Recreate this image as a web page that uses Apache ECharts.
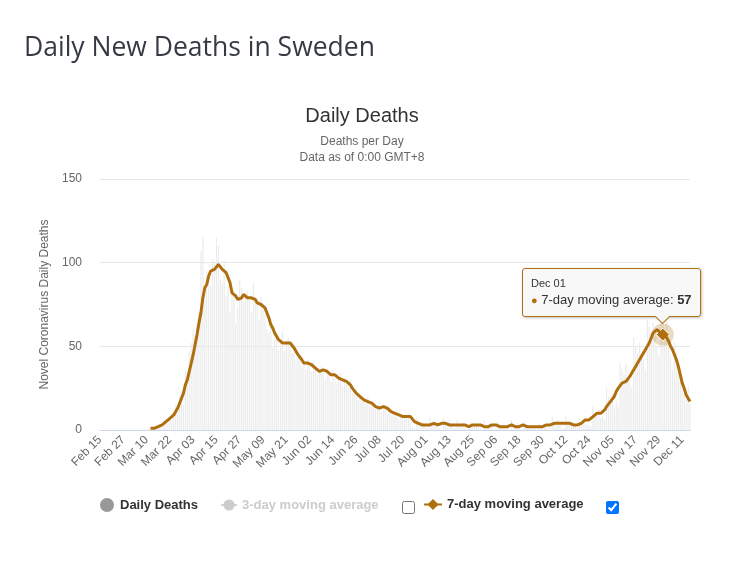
<!DOCTYPE html>
<html>
<head>
<meta charset="utf-8">
<script src="https://cdn.jsdelivr.net/npm/echarts@6/dist/echarts.min.js"></script>
<style>
  html, body { margin: 0; padding: 0; background: #fff; }
  #wrap { position: relative; width: 744px; height: 565px; }
  #chart { width: 744px; height: 565px; }
  .cb { position: absolute; margin: 0; width: 13px; height: 13px; }
</style>
</head>
<body>
<div id="wrap">
  <div id="chart"></div>
  <input type="checkbox" class="cb" id="cb3" style="left:402px;top:501px;">
  <input type="checkbox" class="cb" id="cb7" style="left:606px;top:501px;" checked>
</div>
<script>
// ---------- data ----------
const startYear = 2020, startMonth = 1, startDay = 15;   // first category: Feb 15, 2020
const monthNames = ['Jan','Feb','Mar','Apr','May','Jun','Jul','Aug','Sep','Oct','Nov','Dec'];

// daily new deaths (grey bars), one value per day from Feb 15 to Dec 15
const dailyDeaths = [
  0,0,0,0,0,0,0,0,0,0,0,0,0,0,0,0,0,0,0,0,0,0,0,0,0,
  1,0,0,0,0,2,3,3,3,6,4,6,6,10,15,15,20,23,15,36,34,
  47,52,60,55,63,70,107,115,85,95,90,86,102,100,115,
  110,90,88,101,80,86,70,80,84,64,74,90,85,77,81,
  83,78,70,88,79,75,66,80,72,69,60,58,67,49,55,
  56,48,52,59,47,54,55,50,46,51,41,43,45,38,42,
  36,42,40,35,41,37,33,35,38,34,30,37,33,29,36,
  31,28,32,34,26,31,28,25,30,22,21,24,18,20,17,
  19,16,20,14,15,17,12,14,16,11,13,15,10,12,9,
  11,8,10,6,9,7,9,8,10,5,
  2,1,7,6,4,5,3,
  1,1,8,4,3,5,2,
  1,0,7,5,4,6,3,
  1,1,6,4,3,5,2,
  0,1,5,4,3,4,2,
  1,0,6,3,2,4,2,
  0,1,5,3,2,3,2,
  1,0,6,3,2,4,1,
  0,1,5,3,2,2,1,
  1,0,4,3,2,3,2,
  1,1,8,5,4,6,3,
  1,1,8,5,4,5,3,
  2,1,7,4,3,4,3,
  3,2,14,10,8,12,7,
  8,6,25,20,15,22,13,
  18,14,40,36,33,40,30,
  30,26,55,50,46,52,45,
  42,36,66,62,58,64,56,
  50,44,68,64,60,66,58,
  44,36,52,46,40,36,30,
  22,18,26,16
];

// 7-day moving average (brown line); null before the first deaths
const movingAvg7 = [
  null,null,null,null,null,null,null,null,null,null,null,null,null,
  null,null,null,null,null,null,null,null,null,null,null,null,null,
  1,1,1,2,2,2,3,4,5,6,
  7,7,9,11,13,16,19,22,27,30,
  35,40,45,51,57,64,70,79,85,87,
  92,95,95,96,96,99,98,96,95,94,
  93,88,82,81,80,78,77,79,81,80,
  79,78,79,80,78,76,76,75,74,73,
  70,67,63,61,58,57,54,53,52,52,
  52,53,52,51,49,47,45,44,42,40,
  40,40,40,39,38,37,36,35,35,36,
  36,35,34,33,33,33,32,31,31,30,
  30,29,28,27,25,24,22,21,20,19,
  18,18,17,16,16,15,14,13,13,14,
  14,13,13,12,11,10,10,9,9,8,
  8,8,8,8,8,7,5,5,4,4,
  3,3,3,4,3,3,4,3,3,3,
  4,4,4,3,3,3,3,4,3,3,
  3,3,3,2,2,3,3,3,3,3,
  3,3,2,2,2,2,3,3,3,2,
  2,2,2,2,2,3,3,2,2,2,
  2,2,3,3,2,2,2,2,2,2,
  2,2,2,2,3,3,3,4,4,4,
  4,4,4,4,4,4,4,3,3,3,
  3,3,4,5,6,6,6,7,8,9,
  10,10,10,11,12,14,15,17,18,20,
  23,25,26,28,28,29,30,32,34,36,
  38,40,42,44,46,48,50,52,55,58,
  59,60,59,58,57,57,56,53,50,48,
  45,42,38,33,28,25,21,19,17
];

// 3-day moving average is switched off in the reference, so nothing of it is visible
const movingAvg3 = [];

const yTicks = { min: 0, max: 150, interval: 50 };
const tooltipDate = 'Dec 01';

// category labels (one per day)
const dates = dailyDeaths.map((_, i) => {
  const d = new Date(Date.UTC(startYear, startMonth, startDay + i));
  return monthNames[d.getUTCMonth()] + ' ' + String(d.getUTCDate()).padStart(2, '0');
});

// ---------- chart ----------
const brown = '#b06f0f';
const font = '"Liberation Sans", Arial, sans-serif';
const chart = echarts.init(document.getElementById('chart'), null, { renderer: 'canvas' });
const tipIndex = dates.indexOf(tooltipDate);

const option = {
  animation: false,
  backgroundColor: '#fff',
  textStyle: { fontFamily: font },
  title: [
    { text: 'Daily New Deaths in Sweden', left: 24, top: 35, padding: 0,
      textStyle: { fontFamily: '"Open Sans", sans-serif', fontSize: 26.5, fontWeight: 'normal', color: '#363a45' } },
    { text: 'Daily Deaths', left: 362, top: 106, padding: 0, textAlign: 'center',
      textStyle: { fontFamily: font, fontSize: 20, fontWeight: 'normal', color: '#333' } },
    { text: 'Deaths per Day\nData as of 0:00 GMT+8', left: 362, top: 134, padding: 0, textAlign: 'center',
      textStyle: { fontFamily: font, fontSize: 12, lineHeight: 16, fontWeight: 'normal', color: '#666' } }
  ],
  legend: [
    { left: 100, top: 498, padding: 0, itemGap: 22, itemWidth: 16, itemHeight: 14,
      selected: { '3-day moving average': false },
      textStyle: { fontFamily: font, fontSize: 13, fontWeight: 'bold', color: '#333' },
      inactiveColor: '#ccc',
      data: [
        { name: 'Daily Deaths', icon: 'circle', itemStyle: { color: '#999' } },
        { name: '3-day moving average' }
      ] },
    { left: 423, top: 498, padding: 0, itemWidth: 18, itemHeight: 14,
      textStyle: { fontFamily: font, fontSize: 13, fontWeight: 'bold', color: '#333' },
      data: [ { name: '7-day moving average', itemStyle: { color: brown, opacity: 1 } } ] }
  ],
  tooltip: {
    trigger: 'item',
    triggerOn: 'none',
    alwaysShowContent: true,
    transitionDuration: 0,
    backgroundColor: 'rgba(247,247,247,0.92)',
    borderColor: brown,
    borderWidth: 1,
    padding: [7, 8, 7, 8],
    extraCssText: 'border-radius:3px;box-shadow:1px 1px 3px rgba(0,0,0,0.25);overflow:visible;',
    position: function (point) { return [point[0] - 141, point[1] - 67]; },
    formatter: function (p) {
      return '<div style="font-family:' + font.replace(/"/g, "'") + ';color:#333;">' +
        '<div style="font-size:11px;line-height:15px;">' + p.name + '</div>' +
        '<div style="font-size:13px;line-height:18px;"><span style="color:' + brown + ';font-size:11px;">\u25CF</span> ' +
        p.seriesName + ': <b>' + p.value + '</b></div></div>' +
        '<div style="position:absolute;left:134px;bottom:-6px;width:10px;height:10px;background:#f7f7f7;' +
        'border-right:1px solid ' + brown + ';border-bottom:1px solid ' + brown + ';transform:rotate(45deg);"></div>';
    }
  },
  grid: { left: 100, right: 54, top: 179, bottom: 135 },
  xAxis: {
    type: 'category',
    data: dates,
    boundaryGap: false,
    axisLine: { lineStyle: { color: '#ccd6eb' } },
    axisTick: { show: false },
    axisLabel: { interval: 11, rotate: 45, color: '#666', fontSize: 12, margin: 8, fontFamily: font },
    splitLine: { show: false }
  },
  yAxis: {
    type: 'value',
    min: yTicks.min, max: yTicks.max, interval: yTicks.interval,
    name: 'Novel Coronavirus Daily Deaths',
    nameLocation: 'middle',
    nameGap: 45,
    nameTextStyle: { color: '#666', fontSize: 12, fontFamily: font },
    axisLine: { show: false },
    axisTick: { show: false },
    axisLabel: { color: '#666', fontSize: 12, margin: 18, fontFamily: font },
    splitLine: { lineStyle: { color: '#e6e6e6' } }
  },
  series: [
    { name: 'Daily Deaths', type: 'bar', data: dailyDeaths, barWidth: '60%',
      itemStyle: { color: '#ebebeb' }, silent: true },
    { name: '3-day moving average', type: 'line', data: movingAvg3,
      symbol: 'circle', showSymbol: false, itemStyle: { color: '#ccc' }, lineStyle: { color: '#ccc', width: 2 } },
    { name: '7-day moving average', type: 'line', data: movingAvg7,
      symbol: 'diamond', symbolSize: 1, showSymbol: true, showAllSymbol: true,
      itemStyle: { color: brown, opacity: 0 },
      emphasis: { disabled: true },
      lineStyle: { color: brown, width: 3, opacity: 1 },
      z: 5,
      markPoint: {
        silent: true,
        label: { show: false },
        data: [
          { coord: [tipIndex, movingAvg7[tipIndex]], symbol: 'circle', symbolSize: 22,
            itemStyle: { color: 'rgba(176,111,15,0.25)', opacity: 1 } },
          { coord: [tipIndex, movingAvg7[tipIndex]], symbol: 'diamond', symbolSize: 13,
            itemStyle: { color: brown, borderColor: '#fff', borderWidth: 1, opacity: 1 } }
        ]
      } }
  ]
};
chart.setOption(option);
chart.dispatchAction({ type: 'showTip', seriesIndex: 2, dataIndex: tipIndex });
setTimeout(function () {
  chart.dispatchAction({ type: 'showTip', seriesIndex: 2, dataIndex: tipIndex });
}, 50);
</script>
</body>
</html>
